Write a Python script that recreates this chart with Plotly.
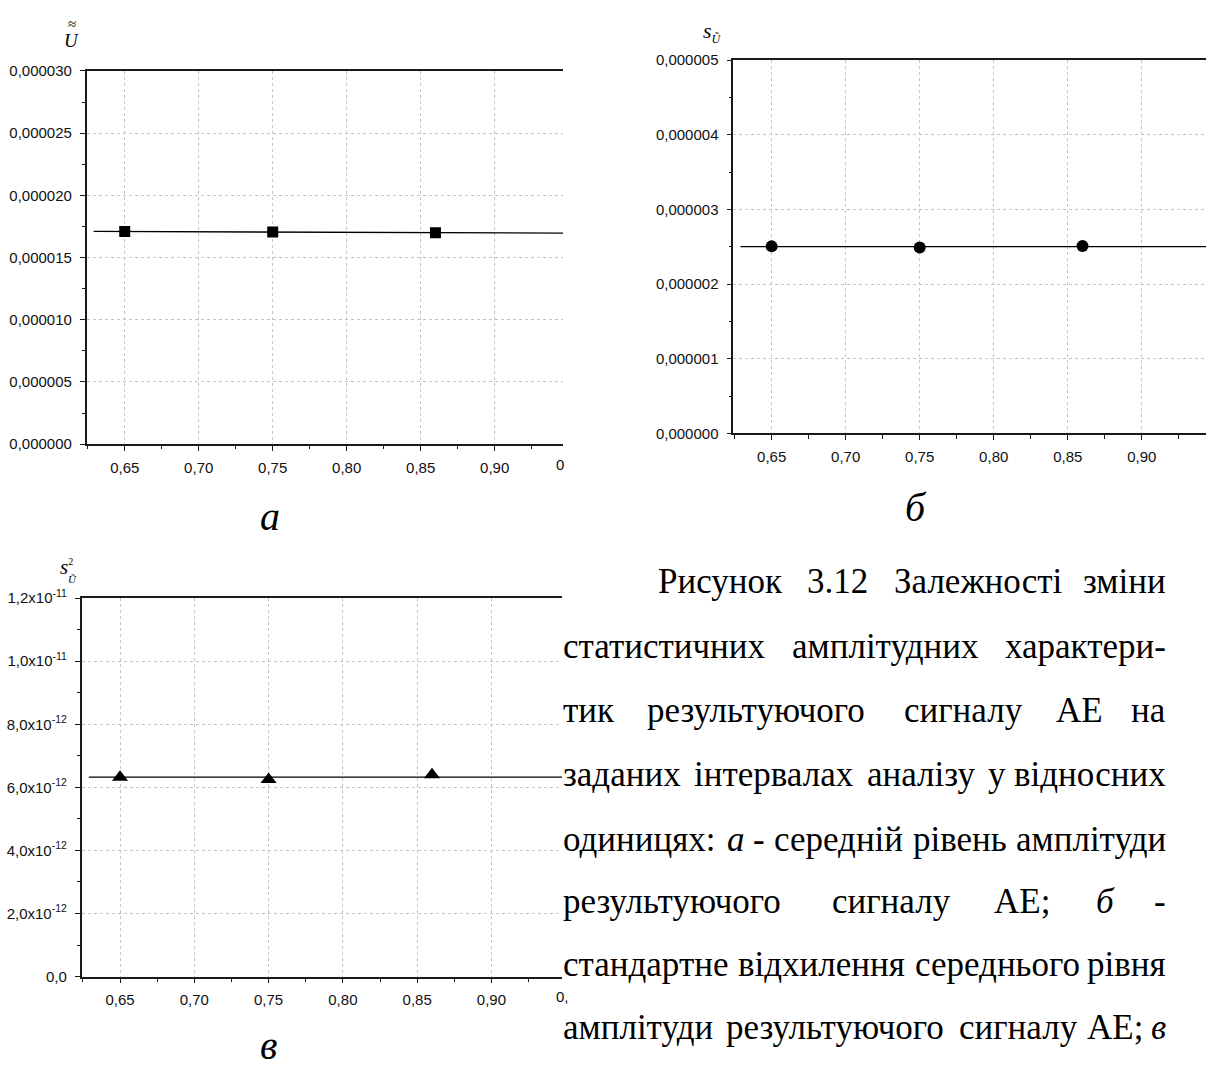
import numpy as np
import plotly.graph_objects as go

W, H = 1206, 1072

# ---------------- data ----------------
x_points = [0.65, 0.75, 0.86]
mean_level = [1.709e-5, 1.705e-5, 1.700e-5]        # panel a
std_level = [2.505e-6, 2.490e-6, 2.510e-6]         # panel б
var_level = [6.32e-12, 6.25e-12, 6.40e-12]         # panel в

x_ticks = [0.65, 0.70, 0.75, 0.80, 0.85, 0.90]
ya_ticks = [0, 5e-6, 1e-5, 1.5e-5, 2e-5, 2.5e-5, 3e-5]
yb_ticks = [0, 1e-6, 2e-6, 3e-6, 4e-6, 5e-6]
yc_ticks = [0, 2e-12, 4e-12, 6e-12, 8e-12, 1e-11, 1.2e-11]
yc_tick_text = ["0,0", "2,0x10<sup>-12</sup>", "4,0x10<sup>-12</sup>", "6,0x10<sup>-12</sup>",
                "8,0x10<sup>-12</sup>", "1,0x10<sup>-11</sup>", "1,2x10<sup>-11</sup>"]

caption_lines = [
    ["Рисунок", "3.12", "Залежності", "зміни"],
    ["статистичних", "амплітудних", "характери-"],
    ["тик", "результуючого", "сигналу", "АЕ", "на"],
    ["заданих", "інтервалах", "аналізу", "у", "відносних"],
    ["одиницях:", "<i>а</i>", "-", "середній", "рівень", "амплітуди"],
    ["результуючого", "сигналу", "АЕ;", "<i>б</i>", "-"],
    ["стандартне", "відхилення", "середнього", "рівня"],
    ["амплітуди", "результуючого", "сигналу", "АЕ;", "<i>в</i>"],
]

# ---------------- layout geometry (pixels) ----------------
panels = {
    "a": dict(x0=86.7, x1=563, y0=61, y1=441, xr=[0.6243, 0.9462], yr=[0, 3e-5]),
    "b": dict(x0=733.3, x1=1206, y0=50, y1=430, xr=[0.6241, 0.9434], yr=[0, 5e-6]),
    "c": dict(x0=81.7, x1=562, y0=597.7, y1=983, xr=[0.6242, 0.9475], yr=[0, 1.2e-11]),
}
FIT_X = np.array([0.629, 0.99])

def px(x):
    return x / W

def py(y):
    return 1 - y / H

fig = go.Figure()

tick_font = dict(family="Liberation Sans, Arial", size=15, color="#111111")
axis_common = dict(
    showline=True, linecolor="#1a1a1a", linewidth=1.6,
    ticks="outside", ticklen=5, tickwidth=1.2, tickcolor="#1a1a1a",
    showgrid=True, gridcolor="#c4c4c4", gridwidth=1, griddash="dot",
    zeroline=False, tickfont=tick_font,
)

names = ["a", "b", "c"]
for i, key in enumerate(names):
    p = panels[key]
    sfx = "" if i == 0 else str(i + 1)
    xa = dict(axis_common)
    xa.update(domain=[px(p["x0"]), px(p["x1"])], range=p["xr"], anchor="y" + sfx,
              tickvals=x_ticks, tickformat=".2f", mirror=True, ticklabelstandoff=4,
              minor=dict(ticks="outside", ticklen=3.5, tickwidth=1, tickcolor="#1a1a1a",
                         tickvals=[v + 0.025 for v in x_ticks] + [x_ticks[0] - 0.025], showgrid=False))
    ya = dict(axis_common)
    if key == "a":
        ytv, ytt = ya_ticks, [f"{v:.6f}".replace(".", ",") for v in ya_ticks]
        mvals = [v + 2.5e-6 for v in ya_ticks[:-1]]
    elif key == "b":
        ytv, ytt = yb_ticks, [f"{v:.6f}".replace(".", ",") for v in yb_ticks]
        mvals = [v + 0.5e-6 for v in yb_ticks[:-1]]
    else:
        ytv, ytt = yc_ticks, yc_tick_text
        mvals = [v + 1e-12 for v in yc_ticks[:-1]]
    ya.update(domain=[py(p["y1"]), py(p["y0"])], range=p["yr"], anchor="x" + sfx,
              tickvals=ytv, ticktext=ytt, mirror=False, ticklabelstandoff=5,
              minor=dict(ticks="outside", ticklen=3, tickwidth=1, tickcolor="#1a1a1a",
                         tickvals=mvals, showgrid=False))
    fig.layout["xaxis" + sfx] = xa
    fig.layout["yaxis" + sfx] = ya

# ---------------- traces ----------------
def add_series(ys, sfx, symbol, size, fit="linear"):
    xs = np.array(x_points)
    ys = np.array(ys)
    if fit == "linear":
        k, b = np.polyfit(xs, ys, 1)
        fy = k * FIT_X + b
    else:
        fy = np.full_like(FIT_X, ys.mean())
    fig.add_trace(go.Scatter(x=FIT_X, y=fy, mode="lines", line=dict(color="black", width=1.3),
                             xaxis="x" + sfx, yaxis="y" + sfx, hoverinfo="skip"))
    fig.add_trace(go.Scatter(x=xs, y=ys, mode="markers",
                             marker=dict(symbol=symbol, size=size, color="black", line=dict(width=0)),
                             xaxis="x" + sfx, yaxis="y" + sfx))

add_series(mean_level, "", "square", 11, "linear")
add_series(std_level, "2", "circle", 12, "mean")
add_series(var_level, "3", "triangle-up", 14, "mean")

# ---------------- annotations ----------------
ann = []
SERIF = "Liberation Serif, Times New Roman"

def text(x, y, s, size, family=SERIF, xanchor="center", yanchor="middle", color="black"):
    ann.append(dict(x=px(x), y=py(y), xref="paper", yref="paper", text=s, showarrow=False,
                    xanchor=xanchor, yanchor=yanchor, font=dict(family=family, size=size, color=color)))

# axis titles
text(72, 13, "≈", 15)
text(71, 30, "<i>U</i>", 19)
text(712, 21, "<i>s</i><sub><i><span style='font-size:12px'>Ũ</span></i></sub>", 22)
text(66, 566, "<i>s</i><sup><span style='font-size:10px'>2</span></sup>", 21)
text(72, 578, "<i>Ũ</i>", 11)

# panel letters
text(270, 515, "<i>а</i>", 40)
text(916, 505, "<i>б</i>", 40)
text(268, 1053, "<i>в</i>", 40)

# clipped tick-label remnants at the crop edge
text(554, 462, "0", 15, family="Liberation Sans, Arial", xanchor="left", color="#111111")
text(554, 1003, "0,", 15, family="Liberation Sans, Arial", xanchor="left", color="#111111")

# caption, justified word by word
WID = {
    'а': 444, 'б': 509, 'в': 472, 'г': 410, 'д': 509, 'е': 444, 'ж': 691, 'з': 395, 'и': 535, 'й': 535,
    'к': 486, 'л': 499, 'м': 633, 'н': 535, 'о': 500, 'п': 535, 'р': 500, 'с': 444, 'т': 437, 'у': 500,
    'ф': 648, 'х': 500, 'ц': 535, 'ч': 503, 'ш': 770, 'щ': 770, 'ь': 456, 'ю': 747, 'я': 484, 'і': 278,
    'ї': 278, 'є': 429, 'Р': 556, 'З': 501, 'А': 722, 'Е': 611, '.': 250, ',': 250, ':': 278, ';': 278,
    '-': 333, ' ': 250,
}
CAP_SIZE = 35
CAP_LEFT, CAP_RIGHT, CAP_INDENT = 561, 1168, 655.5
cap_y = [581, 647, 712, 777, 843, 907, 971, 1035]

def word_width(w):
    plain = w.replace("<i>", "").replace("</i>", "")
    return sum(WID.get(c, 500) for c in plain) / 1000 * CAP_SIZE

for li, words in enumerate(caption_lines):
    left = CAP_INDENT if li == 0 else CAP_LEFT
    widths = [word_width(w) for w in words]
    gap = (CAP_RIGHT - left - sum(widths)) / (len(words) - 1)
    xpos = left
    for wi, w in enumerate(words):
        if wi == len(words) - 1:
            text(CAP_RIGHT, cap_y[li], w, CAP_SIZE, xanchor="right")
        else:
            text(xpos, cap_y[li], w, CAP_SIZE, xanchor="left")
        xpos += widths[wi] + gap

fig.update_layout(
    width=W, height=H, margin=dict(l=0, r=0, t=0, b=0),
    paper_bgcolor="white", plot_bgcolor="white", showlegend=False,
    separators=", ", annotations=ann,
)

fig.write_html("out.html")
